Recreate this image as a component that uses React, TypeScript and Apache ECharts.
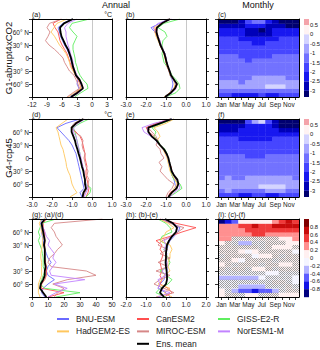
import React, { useEffect, useRef } from 'react';
import * as echarts from 'echarts';

const FONT = '"Liberation Sans", Arial, Helvetica, sans-serif';

const LATS = [-90, -80, -70, -60, -50, -40, -30, -20, -10, 0, 10, 20, 30, 40, 50, 60, 70, 80, 90];
const MODEL_NAMES = ['BNU-ESM', 'CanESM2', 'GISS-E2-R', 'HadGEM2-ES', 'MIROC-ESM', 'NorESM1-M'];
const ENS_NAME = 'Ens. mean';
const MODEL_COLORS = ['#6a6aff', '#ff4f4f', '#5fee5f', '#ffc75e', '#d68787', '#c283ff'];

// (a) G1 annual, degC
const A_BNU = [-4.5, -3.2, -2.6, -3.0, -2.8, -3.3, -3.6, -3.9, -4.1, -4.3, -4.6, -5.0, -5.5, -5.9, -6.3, -6.5, -6.8, -5.8, -4.0];
const A_CAN = [-4.0, -3.2, -2.2, -2.4, -2.8, -3.3, -3.7, -4.1, -4.4, -4.7, -5.0, -5.5, -6.0, -6.4, -6.6, -6.8, -7.4, -7.8, -6.2];
const A_GISS = [-3.5, -2.2, -0.8, -1.0, -1.8, -2.4, -2.8, -3.0, -3.3, -3.4, -3.6, -3.8, -3.8, -3.4, -3.0, -3.8, -4.5, -4.0, -0.5];
const A_HAD = [-4.8, -3.5, -2.2, -2.4, -2.6, -3.3, -3.8, -4.3, -4.5, -4.8, -5.2, -5.8, -6.5, -7.0, -7.5, -8.2, -7.6, -7.0, -5.0];
const A_MIROC = [-5.0, -3.8, -2.5, -2.8, -3.2, -3.6, -4.5, -5.0, -5.5, -5.8, -6.6, -7.5, -8.6, -9.3, -8.8, -8.4, -9.0, -8.5, -6.0];
const A_NOR = [-4.0, -2.5, -1.9, -2.3, -2.5, -3.0, -3.4, -3.7, -3.8, -4.0, -4.3, -4.5, -4.8, -5.0, -5.2, -5.2, -5.5, -4.8, -3.0];
const A_ENS = [-4.2, -2.9, -1.8, -2.1, -2.5, -3.2, -3.5, -3.8, -4.0, -4.2, -4.5, -4.8, -5.3, -5.7, -6.1, -6.3, -6.4, -5.6, -3.8];

// (b)
const B_BNU = [-1.1, -0.8, -0.7, -0.65, -0.7, -0.8, -0.85, -0.9, -0.98, -1.0, -1.05, -1.15, -1.25, -1.35, -1.45, -1.55, -1.75, -1.3, -0.9];
const B_CAN = [-1.05, -0.8, -0.6, -0.5, -0.6, -0.75, -0.85, -0.9, -1.0, -1.05, -1.1, -1.2, -1.3, -1.35, -1.45, -1.55, -1.5, -1.25, -0.85];
const B_GISS = [-1.0, -0.5, -0.3, -0.35, -0.5, -0.7, -0.8, -0.95, -1.1, -1.15, -1.2, -1.15, -1.2, -1.15, -0.95, -1.05, -1.4, -1.1, -0.3];
const B_HAD = [-1.1, -0.8, -0.6, -0.55, -0.65, -0.8, -0.85, -0.95, -1.0, -1.05, -1.1, -1.2, -1.3, -1.4, -1.5, -1.55, -1.6, -1.2, -0.9];
const B_MIROC = [-1.0, -0.75, -0.5, -0.45, -0.6, -0.75, -0.85, -0.95, -1.0, -1.0, -1.05, -1.15, -1.25, -1.3, -1.4, -1.45, -1.5, -1.2, -0.75];
const B_NOR = [-1.0, -0.7, -0.5, -0.5, -0.65, -0.75, -0.8, -0.9, -0.95, -1.0, -1.05, -1.15, -1.25, -1.3, -1.4, -1.5, -1.65, -1.4, -0.7];
const B_ENS = [-1.05, -0.75, -0.55, -0.45, -0.6, -0.75, -0.82, -0.9, -0.97, -1.02, -1.08, -1.18, -1.28, -1.35, -1.42, -1.48, -1.45, -1.2, -0.8];

// (d)
const D_BNU = [-0.5, -0.6, -0.4, -0.45, -0.5, -0.55, -0.6, -0.65, -0.7, -0.75, -0.8, -0.9, -1.0, -1.15, -1.35, -1.55, -1.75, -1.3, -0.6];
const D_CAN = [-0.3, -0.2, -0.15, -0.2, -0.25, -0.3, -0.3, -0.25, -0.3, -0.35, -0.35, -0.4, -0.45, -0.5, -0.6, -0.8, -1.0, -0.75, -0.4];
const D_GISS = [-0.3, -0.1, -0.05, -0.3, -0.35, -0.4, -0.45, -0.5, -0.55, -0.6, -0.6, -0.65, -0.7, -0.75, -0.8, -0.85, -0.95, -0.6, -0.15];
const D_HAD = [-1.1, -0.75, -0.9, -1.0, -1.05, -1.1, -1.2, -1.27, -1.3, -1.35, -1.4, -1.45, -1.55, -1.6, -1.65, -1.7, -1.8, -1.5, -1.2];
const D_MIROC = [-0.45, -0.35, -0.25, -0.2, -0.15, -0.25, -0.2, -0.3, -0.35, -0.4, -0.35, -0.45, -0.5, -0.45, -0.55, -0.85, -1.05, -0.9, -0.5];
const D_NOR = [-0.4, -0.3, -0.2, -0.3, -0.35, -0.4, -0.4, -0.45, -0.5, -0.55, -0.6, -0.65, -0.7, -0.75, -0.8, -0.95, -0.9, -0.7, -0.35];
const D_ENS = [-0.47, -0.43, -0.3, -0.35, -0.35, -0.4, -0.43, -0.5, -0.55, -0.6, -0.67, -0.73, -0.8, -0.85, -0.93, -1.02, -1.02, -0.8, -0.43];

// (e)
const E_BNU = [-0.9, -0.7, -0.5, -0.55, -0.6, -0.7, -0.75, -0.8, -0.85, -0.9, -1.0, -1.15, -1.35, -1.5, -1.7, -1.9, -1.95, -1.3, -0.7];
const E_CAN = [-0.9, -0.8, -0.5, -0.4, -0.5, -0.6, -0.7, -0.75, -0.85, -0.9, -1.0, -1.1, -1.3, -1.45, -1.6, -1.85, -2.0, -1.5, -0.8];
const E_GISS = [-0.85, -0.5, -0.2, -0.3, -0.6, -0.7, -0.75, -0.8, -0.85, -0.9, -0.95, -1.05, -1.3, -1.4, -1.6, -1.5, -1.7, -1.2, -0.6];
const E_HAD = [-0.9, -0.65, -0.6, -0.45, -0.55, -0.7, -0.8, -0.85, -0.9, -0.95, -1.05, -1.15, -1.35, -1.45, -1.3, -1.4, -1.6, -1.0, -0.6];
const E_MIROC = [-1.0, -0.9, -0.7, -0.6, -0.9, -1.1, -1.3, -1.2, -1.35, -1.1, -1.25, -1.3, -1.5, -1.4, -1.5, -1.7, -1.9, -1.4, -0.6];
const E_NOR = [-0.8, -0.6, -0.3, -0.35, -0.5, -0.6, -0.7, -0.8, -0.85, -0.9, -1.0, -1.1, -1.3, -1.5, -1.75, -2.1, -2.2, -1.6, -0.7];
const E_ENS = [-0.88, -0.72, -0.47, -0.38, -0.43, -0.6, -0.72, -0.77, -0.83, -0.88, -0.97, -1.1, -1.3, -1.47, -1.72, -1.88, -1.88, -1.3, -0.72];

// (g) (a)/(d)
const G_BNU = [8, 6, 7, 10, 14, 10, 9, 10, 12, 10, 9, 8, 7.5, 7, 6.5, 6, 6, 5.5, 6];
const G_CAN = [10, 20, 6, 6, 8, 9, 9, 9, 8.5, 8, 8, 8, 8, 8, 8, 8, 7, 7, 9];
const G_GISS = [15, 30, 8, 5, 6, 7, 8, 7, 7, 7, 6.5, 6, 5, 4, 5, 4, 5, 6, 15];
const G_HAD = [5, 4, 4, 4, 5, 6, 6, 6, 6, 5.5, 5.5, 6, 6.5, 6.5, 7, 6, 5.5, 4.5, 6];
const G_MIROC = [14, 16, 20, 13, 22, 40, 34, 12, 10, 11, 14, 16, 19, 17, 15, 14, 12, 14, 44];
const G_NOR = [10, 15, 22, 14, 33, 12, 11, 13, 15, 13, 14, 12, 10, 11, 9, 8, 7, 6, 8];
const G_ENS = [9, 7, 5, 5.5, 7, 8, 8, 8.5, 8, 8, 8, 8, 7.5, 8, 7.5, 7, 6.5, 6, 8];

// (h) (b)-(e)
const H_BNU = [0.2, 0.0, -0.4, -0.3, -0.1, -0.05, 0.05, 0.05, 0.0, 0.0, 0.0, 0.05, 0.1, 0.2, 0.4, 0.6, 0.7, 0.3, -0.3];
const H_CAN = [-0.1, 0.3, 0.1, -0.3, -0.2, -0.3, -0.2, -0.25, -0.3, -0.2, -0.15, -0.3, -0.2, -0.5, 0.2, 0.8, 1.5, 0.5, -0.3];
const H_GISS = [0.0, -0.5, -0.3, 0.1, 0.3, 0.0, -0.3, 0.1, 0.2, 0.1, 0.0, -0.1, 0.1, -0.3, -0.2, 0.3, 0.2, 0.0, -0.4];
const H_HAD = [0.3, -0.1, 0.2, -0.4, -0.2, -0.1, 0.2, 0.1, 0.1, 0.2, 0.2, 0.3, 0.2, -0.3, -0.1, 0.0, 0.4, 0.1, -0.3];
const H_MIROC = [-0.5, 0.4, -0.1, -0.6, -0.3, 0.2, -0.5, 0.1, -0.4, 0.2, -0.3, 0.1, -0.4, -0.2, 0.3, 0.6, 0.9, 0.2, -0.2];
const H_NOR = [-0.4, 0.2, -0.4, -0.3, -0.4, 0.0, -0.2, 0.05, 0.05, 0.0, 0.05, -0.1, 0.0, -0.1, 0.3, 0.5, 0.6, 0.4, -0.2];
const H_ENS = [-0.1, -0.3, -0.2, 0.0, 0.05, 0.05, 0.03, 0.0, -0.02, 0.0, 0.0, 0.02, 0.05, 0.15, 0.3, 0.5, 0.55, 0.35, -0.05];

// Monthly panels: rows = latitude bands (south to north), columns = months
const MONTHS = ['Jan', 'Feb', 'Mar', 'Apr', 'May', 'Jun', 'Jul', 'Aug', 'Sep', 'Oct', 'Nov', 'Dec'];
const BAND_CENTERS = [-85, -75, -65, -55, -45, -35, -25, -15, -5, 5, 15, 25, 35, 45, 55, 65, 75, 85];

const C_MONTHLY = [
  [-1.8, -1.9, -2.1, -2.2, -2.3, -2.1, -2.0, -2.2, -2.3, -2.0, -1.8, -1.7],
  [-1.3, -1.2, -1.3, -1.4, -1.5, -1.4, -1.3, -1.2, -1.1, -1.2, -1.3, -1.4],
  [-0.8, -0.7, -0.8, -0.9, -0.8, -0.7, -0.6, -0.5, -0.4, -0.4, -0.6, -0.8],
  [-0.9, -0.9, -1.0, -1.1, -1.0, -0.9, -0.9, -0.8, -0.6, -0.7, -0.8, -0.9],
  [-1.1, -1.1, -1.2, -1.2, -1.1, -1.0, -1.0, -1.0, -0.9, -1.0, -1.1, -1.1],
  [-1.3, -1.2, -1.3, -1.3, -1.2, -1.2, -1.1, -1.1, -1.2, -1.2, -1.3, -1.3],
  [-1.4, -1.3, -1.3, -1.4, -1.3, -1.3, -1.3, -1.2, -1.3, -1.4, -1.4, -1.4],
  [-1.4, -1.4, -1.3, -1.4, -1.5, -1.4, -1.4, -1.3, -1.4, -1.4, -1.5, -1.4],
  [-1.4, -1.4, -1.4, -1.5, -1.6, -1.5, -1.4, -1.4, -1.4, -1.4, -1.4, -1.4],
  [-1.5, -1.4, -1.5, -1.6, -1.6, -1.7, -1.6, -1.6, -1.5, -1.5, -1.5, -1.5],
  [-1.6, -1.6, -1.6, -1.7, -1.8, -1.8, -1.7, -1.7, -1.6, -1.6, -1.6, -1.6],
  [-1.7, -1.7, -1.8, -1.8, -1.9, -1.9, -1.8, -1.8, -1.7, -1.7, -1.7, -1.7],
  [-1.8, -1.8, -1.9, -1.9, -2.0, -2.1, -2.1, -2.0, -1.9, -1.8, -1.8, -1.8],
  [-1.9, -1.9, -2.0, -2.1, -2.2, -2.4, -2.4, -2.3, -2.1, -2.0, -1.9, -1.9],
  [-2.1, -2.1, -2.2, -2.3, -2.6, -2.8, -2.9, -2.7, -2.4, -2.2, -2.1, -2.1],
  [-2.3, -2.2, -2.3, -2.4, -2.7, -2.9, -3.1, -2.8, -2.5, -2.4, -2.4, -2.4],
  [-2.8, -2.7, -2.7, -2.6, -2.3, -2.4, -2.5, -2.6, -2.7, -2.9, -3.1, -3.1],
  [-3.3, -3.3, -3.2, -3.0, -1.6, -1.2, -1.4, -2.1, -2.8, -3.2, -3.4, -3.4],
];

const F_MONTHLY = [
  [-1.7, -1.8, -2.0, -2.1, -2.2, -2.0, -1.9, -2.1, -2.2, -1.9, -1.7, -1.6],
  [-1.1, -1.0, -1.1, -1.2, -1.3, -1.2, -1.1, -1.0, -0.8, -1.0, -1.1, -1.2],
  [-0.7, -0.6, -0.7, -0.8, -0.7, -0.6, -0.5, -0.5, -0.3, -0.5, -0.6, -0.7],
  [-0.9, -0.8, -0.9, -1.0, -0.9, -0.8, -0.8, -0.7, -0.6, -0.7, -0.8, -0.9],
  [-1.1, -1.0, -1.1, -1.1, -1.0, -1.0, -0.9, -0.9, -0.9, -1.0, -1.0, -1.1],
  [-1.2, -1.2, -1.2, -1.2, -1.2, -1.1, -1.1, -1.1, -1.1, -1.2, -1.2, -1.2],
  [-1.3, -1.3, -1.3, -1.3, -1.3, -1.3, -1.2, -1.2, -1.3, -1.3, -1.3, -1.3],
  [-1.4, -1.3, -1.3, -1.4, -1.4, -1.4, -1.3, -1.3, -1.4, -1.4, -1.4, -1.4],
  [-1.4, -1.4, -1.4, -1.4, -1.5, -1.4, -1.4, -1.4, -1.4, -1.4, -1.4, -1.4],
  [-1.5, -1.4, -1.4, -1.5, -1.6, -1.6, -1.6, -1.5, -1.5, -1.5, -1.5, -1.5],
  [-1.6, -1.6, -1.6, -1.7, -1.8, -1.8, -1.8, -1.7, -1.6, -1.6, -1.6, -1.6],
  [-1.7, -1.7, -1.7, -1.8, -1.9, -1.9, -1.9, -1.8, -1.7, -1.7, -1.7, -1.7],
  [-1.8, -1.8, -1.8, -1.9, -2.0, -2.0, -2.0, -1.9, -1.8, -1.8, -1.8, -1.8],
  [-2.0, -2.0, -2.0, -2.1, -2.1, -2.2, -2.2, -2.1, -2.0, -2.0, -2.0, -2.0],
  [-2.2, -2.2, -2.2, -2.3, -2.3, -2.4, -2.4, -2.3, -2.2, -2.2, -2.2, -2.2],
  [-2.6, -2.6, -2.6, -2.5, -2.4, -2.4, -2.3, -2.3, -2.5, -2.6, -2.7, -2.7],
  [-3.0, -3.0, -2.9, -2.8, -2.4, -2.3, -2.2, -2.4, -2.8, -3.1, -3.2, -3.2],
  [-3.4, -3.4, -3.3, -3.1, -1.8, -0.8, -0.2, -1.8, -2.9, -3.3, -3.4, -3.4],
];

const I_MONTHLY = [
  [0.1, 0.0, 0.15, -0.1, 0.0, 0.05, -0.05, 0.1, 0.0, 0.05, 0.1, 0.15],
  [0.0, -0.1, -0.3, -0.45, -0.55, -0.65, -0.6, -0.5, -0.35, -0.1, 0.0, 0.05],
  [-0.05, -0.1, -0.15, -0.3, -0.35, -0.3, -0.25, -0.2, -0.1, -0.05, 0.0, -0.05],
  [-0.05, -0.1, -0.1, -0.1, -0.05, -0.1, -0.05, -0.05, 0.0, 0.0, -0.05, -0.05],
  [-0.25, -0.3, -0.25, -0.3, -0.25, -0.25, -0.2, -0.15, -0.1, -0.1, -0.15, -0.2],
  [-0.1, -0.05, -0.05, -0.1, -0.1, -0.05, -0.05, -0.05, -0.1, -0.05, -0.05, -0.1],
  [0.0, -0.05, 0.05, 0.0, -0.05, 0.0, 0.05, 0.0, -0.05, 0.0, 0.05, 0.0],
  [0.05, 0.0, -0.05, 0.0, 0.05, 0.0, -0.05, 0.0, 0.05, 0.0, 0.0, 0.05],
  [0.0, 0.05, 0.0, -0.05, 0.0, 0.05, 0.0, 0.0, -0.05, 0.0, 0.05, 0.0],
  [-0.05, 0.0, 0.05, 0.0, 0.0, -0.05, 0.0, 0.05, 0.0, -0.05, 0.0, 0.0],
  [0.0, 0.05, 0.0, 0.0, -0.05, 0.0, 0.05, 0.0, 0.0, 0.05, 0.0, -0.05],
  [0.05, 0.0, 0.0, 0.05, 0.0, 0.0, -0.05, 0.0, 0.05, 0.0, 0.05, 0.0],
  [0.05, 0.0, -0.1, -0.3, -0.25, -0.1, -0.05, 0.0, 0.05, 0.0, 0.0, 0.05],
  [0.25, 0.2, 0.15, 0.1, 0.05, 0.05, 0.1, 0.1, 0.05, 0.1, 0.15, 0.2],
  [0.3, 0.25, 0.25, 0.3, 0.35, 0.4, 0.4, 0.35, 0.3, 0.3, 0.3, 0.3],
  [0.35, 0.3, 0.3, 0.35, 0.45, 0.5, 0.55, 0.5, 0.5, 0.5, 0.55, 0.5],
  [0.3, 0.3, 0.35, 0.45, 0.55, 0.6, 0.55, 0.55, 0.65, 0.7, 0.75, 0.65],
  [-0.9, -0.7, -0.5, 0.0, 0.05, 0.1, 0.1, 0.15, 0.3, 0.5, 0.6, 0.55],
];

// 1 = not significant (hatched) in (i)
const I_NONSIG = [
  [0, 1, 1, 1, 0, 0, 1, 1, 1, 0, 0, 0],
  [0, 1, 0, 0, 0, 0, 0, 0, 0, 1, 1, 1],
  [1, 1, 1, 0, 0, 0, 0, 1, 1, 1, 1, 1],
  [1, 1, 1, 1, 1, 1, 1, 1, 1, 1, 1, 0],
  [0, 0, 0, 0, 0, 0, 0, 1, 1, 1, 1, 0],
  [1, 1, 1, 1, 1, 1, 1, 0, 0, 1, 1, 1],
  [1, 1, 1, 1, 1, 0, 0, 1, 1, 1, 1, 1],
  [0, 1, 1, 1, 1, 1, 1, 1, 1, 0, 0, 1],
  [1, 1, 0, 0, 1, 1, 1, 1, 1, 1, 1, 1],
  [1, 1, 1, 1, 1, 0, 0, 0, 1, 1, 1, 1],
  [1, 1, 1, 0, 0, 0, 1, 1, 1, 1, 1, 0],
  [1, 1, 1, 1, 1, 1, 1, 1, 0, 0, 0, 1],
  [0, 1, 1, 0, 0, 1, 1, 1, 1, 1, 0, 0],
  [0, 0, 1, 1, 1, 1, 1, 1, 1, 0, 0, 0],
  [0, 0, 0, 0, 0, 0, 0, 0, 0, 0, 0, 0],
  [0, 0, 0, 0, 0, 0, 0, 0, 0, 0, 0, 0],
  [0, 0, 0, 0, 0, 0, 0, 0, 0, 0, 0, 0],
  [0, 0, 0, 0, 0, 0, 0, 0, 0, 0, 0, 0],
];

const CF_LEVELS = [-3, -2.5, -2, -1.5, -1, -0.5, 0, 0.5];
const CF_LABELS = ['0.5', '0', '-0.5', '-1', '-1.5', '-2', '-2.5', '-3'];
const CF_COLORS = ['#000070', '#0000b8', '#1818f0', '#4646ff', '#7272ff', '#a4a4ff', '#d4d4ff', '#fff3f3', '#f4a3aa'];
const I_LEVELS = [-0.8, -0.6, -0.4, -0.2, 0, 0.2, 0.4, 0.6, 0.8];
const I_LABELS = ['0.8', '0.6', '0.4', '0.2', '0', '-0.2', '-0.4', '-0.6', '-0.8'];
const I_COLORS = ['#000080', '#1414e6', '#5c5cff', '#b4b4ff', '#f5f5ff', '#fff0f0', '#ff9090', '#f03a3a', '#c80c0c', '#800000'];

const GRIDS = [
  [32, 19, 80], [126, 19, 80], [218, 19, 81],
  [32, 119, 80], [126, 119, 80], [218, 119, 81],
  [32, 219, 80], [126, 219, 80], [218, 219, 81],
];
const GH = 78;

function pieces(levels: number[], colors: string[]) {
  const out: any[] = [{ lt: levels[0], color: colors[0] }];
  for (let i = 1; i < levels.length; i++) out.push({ gte: levels[i - 1], lt: levels[i], color: colors[i] });
  out.push({ gte: levels[levels.length - 1], color: colors[levels.length] });
  return out;
}

function latFmt(v: number) {
  if (v === 90 || v === -90) return '';
  if (v === 0) return '0';
  return v > 0 ? `${v}° N` : `${-v}° S`;
}

function makeHatch(): string {
  const cv = document.createElement('canvas');
  cv.width = 2;
  cv.height = 2;
  const ctx = cv.getContext('2d');
  if (ctx) {
    ctx.fillStyle = '#9c9c9c';
    ctx.fillRect(0, 0, 1, 1);
    ctx.fillRect(1, 1, 1, 1);
  }
  return cv.toDataURL();
}

function buildOption() {
  const lineStyleBlack = { color: '#000', width: 1 };
  const xAxis: any[] = [];
  const yAxis: any[] = [];
  const series: any[] = [];
  const lbl = { fontSize: 6.5, color: '#222', fontFamily: FONT };

  const linePanels = [
    { grid: 0, min: -12, max: 4, interval: 3, fmt: (v: number) => (v === 4 ? '' : String(v)), data: [A_BNU, A_CAN, A_GISS, A_HAD, A_MIROC, A_NOR], ens: A_ENS, zero: true, left: true },
    { grid: 1, min: -3, max: 1, interval: 1, fmt: (v: number) => v.toFixed(1), data: [B_BNU, B_CAN, B_GISS, B_HAD, B_MIROC, B_NOR], ens: B_ENS, zero: true, left: false },
    { grid: 3, min: -3, max: 1, interval: 1, fmt: (v: number) => v.toFixed(1), data: [D_BNU, D_CAN, D_GISS, D_HAD, D_MIROC, D_NOR], ens: D_ENS, zero: true, left: true },
    { grid: 4, min: -3, max: 1, interval: 1, fmt: (v: number) => v.toFixed(1), data: [E_BNU, E_CAN, E_GISS, E_HAD, E_MIROC, E_NOR], ens: E_ENS, zero: true, left: false },
    { grid: 6, min: 0, max: 50, interval: 10, fmt: (v: number) => String(v), data: [G_BNU, G_CAN, G_GISS, G_HAD, G_MIROC, G_NOR], ens: G_ENS, zero: false, left: true },
    { grid: 7, min: -2, max: 2, interval: 1, fmt: (v: number) => v.toFixed(1), data: [H_BNU, H_CAN, H_GISS, H_HAD, H_MIROC, H_NOR], ens: H_ENS, zero: false, left: false },
  ];

  linePanels.forEach((p) => {
    const xi = xAxis.length;
    xAxis.push({
      gridIndex: p.grid, type: 'value', position: 'bottom', min: p.min, max: p.max, interval: p.interval, z: 10,
      axisLine: { show: true, onZero: false, lineStyle: lineStyleBlack },
      axisTick: { show: true, length: 3, lineStyle: { color: '#000', width: 0.8 } },
      axisLabel: { ...lbl, margin: 4, formatter: p.fmt },
      splitLine: { show: false },
    });
    xAxis.push({
      gridIndex: p.grid, type: 'value', position: 'top', min: p.min, max: p.max, interval: p.interval, z: 10,
      axisLine: { show: true, onZero: false, lineStyle: lineStyleBlack },
      axisTick: { show: false }, axisLabel: { show: false }, splitLine: { show: false },
    });
    const yi = yAxis.length;
    yAxis.push({
      gridIndex: p.grid, type: 'value', position: 'left', min: -90, max: 90, interval: 30, z: 10,
      axisLine: { show: true, onZero: false, lineStyle: lineStyleBlack },
      axisTick: { show: p.left, length: 3, lineStyle: { color: '#000', width: 0.8 } },
      axisLabel: { ...lbl, show: p.left, margin: 3, formatter: latFmt },
      splitLine: { show: false },
    });
    yAxis.push({
      gridIndex: p.grid, type: 'value', position: 'right', min: -90, max: 90, interval: 30, z: 10,
      axisLine: { show: true, onZero: false, lineStyle: lineStyleBlack },
      axisTick: { show: !p.left, length: 3, lineStyle: { color: '#000', width: 0.8 } },
      axisLabel: { show: false }, splitLine: { show: false },
    });
    p.data.forEach((vals, m) => {
      const s: any = {
        type: 'line', name: MODEL_NAMES[m], xAxisIndex: xi, yAxisIndex: yi,
        data: vals.map((v, k) => [v, LATS[k]]),
        showSymbol: false, symbol: 'none', z: 2,
        lineStyle: { color: MODEL_COLORS[m], width: 0.9 },
        itemStyle: { color: MODEL_COLORS[m] },
      };
      if (m === 0 && p.zero) {
        s.markLine = {
          silent: true, symbol: 'none', label: { show: false },
          lineStyle: { color: '#c8c8c8', width: 1, type: 'solid' },
          data: [{ xAxis: 0 }],
        };
      }
      series.push(s);
    });
    series.push({
      type: 'line', name: ENS_NAME, xAxisIndex: xi, yAxisIndex: yi,
      data: p.ens.map((v, k) => [v, LATS[k]]),
      showSymbol: false, symbol: 'none', z: 4,
      lineStyle: { color: '#000', width: 1.8 },
      itemStyle: { color: '#000' },
    });
  });

  const hatch = makeHatch();
  const heatPanels = [
    { grid: 2, rows: C_MONTHLY },
    { grid: 5, rows: F_MONTHLY },
    { grid: 8, rows: I_MONTHLY },
  ];
  const heatSeriesIdx: number[] = [];
  heatPanels.forEach((p, hp) => {
    const xi = xAxis.length;
    xAxis.push({
      gridIndex: p.grid, type: 'category', data: MONTHS, position: 'bottom', boundaryGap: true, z: 10,
      axisLine: { show: true, onZero: false, lineStyle: lineStyleBlack },
      axisTick: { show: true, alignWithLabel: true, interval: 0, length: 3, lineStyle: { color: '#000', width: 0.8 } },
      axisLabel: { ...lbl, interval: 1, margin: 4 },
      splitLine: { show: false },
    });
    xAxis.push({
      gridIndex: p.grid, type: 'category', data: MONTHS, position: 'top', boundaryGap: true, z: 10,
      axisLine: { show: true, onZero: false, lineStyle: lineStyleBlack },
      axisTick: { show: false }, axisLabel: { show: false }, splitLine: { show: false },
    });
    const yi = yAxis.length;
    yAxis.push({
      gridIndex: p.grid, type: 'value', position: 'left', min: -90, max: 90, interval: 30, z: 10,
      axisLine: { show: true, onZero: false, lineStyle: lineStyleBlack },
      axisTick: { show: true, length: 3, lineStyle: { color: '#000', width: 0.8 } },
      axisLabel: { show: false }, splitLine: { show: false },
    });
    yAxis.push({
      gridIndex: p.grid, type: 'value', position: 'right', min: -90, max: 90, interval: 30, z: 10,
      axisLine: { show: true, onZero: false, lineStyle: lineStyleBlack },
      axisTick: { show: false }, axisLabel: { show: false }, splitLine: { show: false },
    });
    const data: any[] = [];
    p.rows.forEach((row, r) => row.forEach((v, m) => data.push([m, BAND_CENTERS[r], v])));
    heatSeriesIdx.push(series.length);
    series.push({
      type: 'custom', name: 'monthly' + hp, xAxisIndex: xi, yAxisIndex: yi, clip: true, z: 1,
      data,
      renderItem: (params: any, api: any) => {
        const c = api.coord([api.value(0), api.value(1)]);
        const s = api.size([1, 10]);
        return {
          type: 'rect',
          shape: { x: c[0] - s[0] / 2, y: c[1] - s[1] / 2, width: s[0] + 0.4, height: s[1] + 0.4 },
          style: { fill: api.visual('color'), stroke: null },
        };
      },
    });
    if (hp === 2) {
      const hd: any[] = [];
      I_NONSIG.forEach((row, r) => row.forEach((f, m) => { if (f) hd.push([m, BAND_CENTERS[r]]); }));
      series.push({
        type: 'custom', name: 'nonsig', xAxisIndex: xi, yAxisIndex: yi, clip: true, z: 1.5,
        data: hd,
        renderItem: (params: any, api: any) => {
          const c = api.coord([api.value(0), api.value(1)]);
          const s = api.size([1, 10]);
          return {
            type: 'rect',
            shape: { x: c[0] - s[0] / 2, y: c[1] - s[1] / 2, width: s[0], height: s[1] },
            style: { fill: { image: hatch, repeat: 'repeat', imageWidth: 2, imageHeight: 2 } as any, stroke: null },
          };
        },
      });
    }
  });

  const graphic: any[] = [];
  const txt = (x: number, y: number, text: string, size: number, align = 'left', extra: any = {}) => ({
    type: 'text', x, y, silent: true, ...extra,
    style: { text, fontSize: size, fontFamily: FONT, fill: '#111', align, verticalAlign: 'middle' },
  });
  graphic.push(txt(116, 5, 'Annual', 9, 'center'));
  graphic.push(txt(258, 5, 'Monthly', 9, 'center'));
  graphic.push(txt(8, 58, 'G1-abrupt4xCO2', 9.5, 'center', { rotation: Math.PI / 2 }));
  graphic.push(txt(8, 158, 'G4-rcp45', 9.5, 'center', { rotation: Math.PI / 2 }));
  const panelLabels = ['(a)', '(b)', '(c)', '(d)', '(e)', '(f)', '(g): (a)/(d)', '(h): (b)-(e)', '(i): (c)-(f)'];
  panelLabels.forEach((t, i) => graphic.push(txt(GRIDS[i][0], GRIDS[i][1] - 4.5, t, 7)));
  graphic.push(txt(112, 14.5, '°C', 7, 'right'));
  graphic.push(txt(112, 114.5, '°C', 7, 'right'));

  // colorbars for (c) and (f)
  [19, 119].forEach((top) => {
    const bounds = [top, top + 6, top + 15.4, top + 24.8, top + 34.2, top + 43.6, top + 53, top + 62.4, top + 71.8, top + GH];
    for (let k = 0; k < 9; k++) {
      graphic.push({
        type: 'rect', silent: true,
        shape: { x: 304, y: bounds[k], width: 5, height: bounds[k + 1] - bounds[k] },
        style: { fill: CF_COLORS[8 - k], stroke: null },
      });
    }
    CF_LABELS.forEach((t, k) => graphic.push(txt(310, bounds[k + 1], t, 5.8)));
  });
  // colorbar for (i)
  {
    const top = 219;
    const h = GH / 10;
    for (let k = 0; k < 10; k++) {
      graphic.push({
        type: 'rect', silent: true,
        shape: { x: 304, y: top + k * h, width: 5, height: h + 0.2 },
        style: { fill: I_COLORS[9 - k], stroke: null },
      });
    }
    I_LABELS.forEach((t, k) => graphic.push(txt(310, top + (k + 1) * h, t, 5.8)));
  }

  const legendCommon = {
    orient: 'vertical', icon: 'rect', itemWidth: 12, itemHeight: 2, itemGap: 2.4, padding: 0,
    selectedMode: false,
    textStyle: { fontSize: 8.5, fontFamily: FONT, color: '#222', lineHeight: 10, padding: [0, 0, 0, 2] },
  };

  return {
    animation: false,
    backgroundColor: '#fff',
    grid: GRIDS.map((g) => ({ left: g[0], top: g[1], width: g[2], height: GH, containLabel: false, show: false })),
    xAxis,
    yAxis,
    series,
    visualMap: [
      { type: 'piecewise', show: false, seriesIndex: [heatSeriesIdx[0], heatSeriesIdx[1]], dimension: 2, pieces: pieces(CF_LEVELS, CF_COLORS) },
      { type: 'piecewise', show: false, seriesIndex: [heatSeriesIdx[2]], dimension: 2, pieces: pieces(I_LEVELS, I_COLORS) },
    ],
    legend: [
      { ...legendCommon, left: 57, top: 314, data: ['BNU-ESM', 'HadGEM2-ES'] },
      { ...legendCommon, left: 137, top: 314, data: ['CanESM2', 'MIROC-ESM', ENS_NAME] },
      { ...legendCommon, left: 218, top: 314, data: ['GISS-E2-R', 'NorESM1-M'] },
    ],
    graphic,
  };
}

export default function App() {
  const ref = useRef<HTMLDivElement>(null);
  useEffect(() => {
    if (!ref.current) return;
    const chart = echarts.init(ref.current, null, { renderer: 'svg' });
    chart.setOption(buildOption() as any);
    return () => chart.dispose();
  }, []);
  return <div ref={ref} style={{ position: 'fixed', left: 0, top: 0, width: 320, height: 350 }} />;
}
